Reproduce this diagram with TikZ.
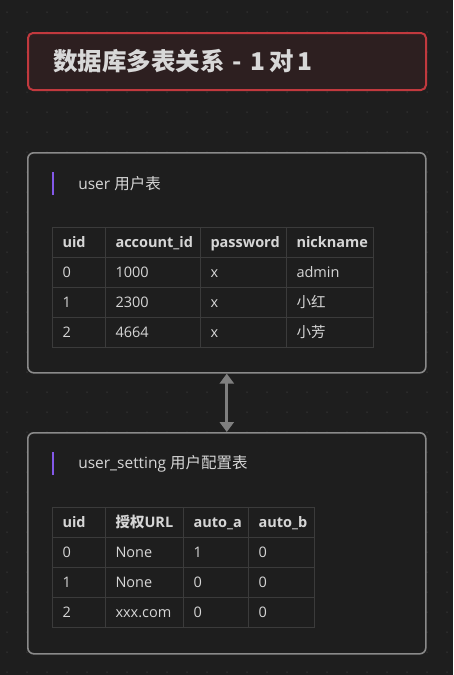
\documentclass[tikz,border=0pt]{standalone}
\usepackage{fontspec}
\setmainfont{Open Sans}
\newfontfamily\cjk{Noto Sans CJK SC}
\usepackage{tikz}
\usetikzlibrary{arrows.meta,positioning}
\definecolor{canvasbg}{HTML}{1E1E1E}
\definecolor{canvasdot}{HTML}{3A3A3A}
\definecolor{titlefill}{HTML}{2D1F20}
\definecolor{titlered}{HTML}{C1393E}
\definecolor{paneledge}{HTML}{8A8A8A}
\definecolor{inktext}{HTML}{D6D6D6}
\definecolor{accentpurple}{HTML}{8358E8}
\definecolor{gridline}{HTML}{3B3B3B}
\definecolor{linkgray}{HTML}{7F7F7F}

\begin{document}
\begin{tikzpicture}[x=1pt, y=-1pt, font=\fontsize{14.5}{17}\selectfont, text=inktext,
  titlebox/.style={draw=titlered, fill=titlefill, line width=2pt, rounded corners=5pt, anchor=north west,
    minimum width=398, minimum height=57, inner xsep=25pt, text width=348, align=left,
    font=\cjk\bfseries\fontsize{24.5}{28}\selectfont, text=inktext!95!white},
  panel/.style={draw=paneledge, fill=canvasbg, line width=1.6pt, rounded corners=6pt, anchor=north west,
    minimum width=398},
  bar/.style={fill=accentpurple, inner sep=0pt, minimum width=2.2, minimum height=23, anchor=north west},
  caption/.style={inner sep=0pt, anchor=west, font=\fontsize{15.5}{18}\selectfont},
  cell/.style={draw=gridline, line width=1pt, anchor=north west, minimum height=30, inner xsep=10pt,
    inner ysep=0pt, text height=12.5, text depth=3, align=left},
  head/.style={cell, font=\bfseries\fontsize{14.5}{17}\selectfont},
  link/.style={{Triangle[width=14pt,length=10pt]}-{Triangle[width=14pt,length=10pt]}, line width=3pt, linkgray}]
  % canvas and dot grid
  \fill[canvasbg] (0,0) rectangle (453,675);
  \foreach \x in {7,27,...,447}
    \foreach \y in {12,32,...,672}
      \fill[canvasdot] (\x,\y) circle (0.75);
  \useasboundingbox (0,0) rectangle (453,675);

  \node[titlebox] (title) at (27,32) {数据库多表关系 - 1\,对\,1};

  % user table
  \node[panel, minimum height=220] (userbox) at (27,152) {};
  \node[bar] (userbar) at (51.5,172) {};
  \node[caption, right=24pt of userbar] (usercap) {user {\cjk 用户表}};
  \foreach \x/\w/\a/\b/\c/\d [count=\k] in {52/53/uid/0/1/2, 105/95/account\_id/1000/2300/4664,
      200/86/password/x/x/x, 286/87/nickname/admin/{\cjk 小红}/{\cjk 小芳}} {
    \node[head, minimum width=\w, text width=\w-20] (u-0-\k) at (\x,227) {\a};
    \node[cell, minimum width=\w, text width=\w-20] (u-1-\k) at (\x,257) {\b};
    \node[cell, minimum width=\w, text width=\w-20] (u-2-\k) at (\x,287) {\c};
    \node[cell, minimum width=\w, text width=\w-20] (u-3-\k) at (\x,317) {\d};
  }

  % user_setting table
  \node[panel, minimum height=221] (setbox) at (27,432) {};
  \node[bar] (setbar) at (51.5,452) {};
  \node[caption, right=24pt of setbar] (setcap) {user\_setting {\cjk 用户配置表}};
  \foreach \x/\w/\a/\b/\c/\d [count=\k] in {52/53/uid/0/1/2, 105/78/{{\cjk 授权}URL}/None/None/xxx.com,
      183/65/auto\_a/1/0/0, 248/66/auto\_b/0/0/0} {
    \node[head, minimum width=\w, text width=\w-20] (s-0-\k) at (\x,507) {\a};
    \node[cell, minimum width=\w, text width=\w-20] (s-1-\k) at (\x,537) {\b};
    \node[cell, minimum width=\w, text width=\w-20] (s-2-\k) at (\x,567) {\c};
    \node[cell, minimum width=\w, text width=\w-20] (s-3-\k) at (\x,597) {\d};
  }

  \draw[link] (userbox.south) -- (setbox.north);
\end{tikzpicture}
\end{document}
